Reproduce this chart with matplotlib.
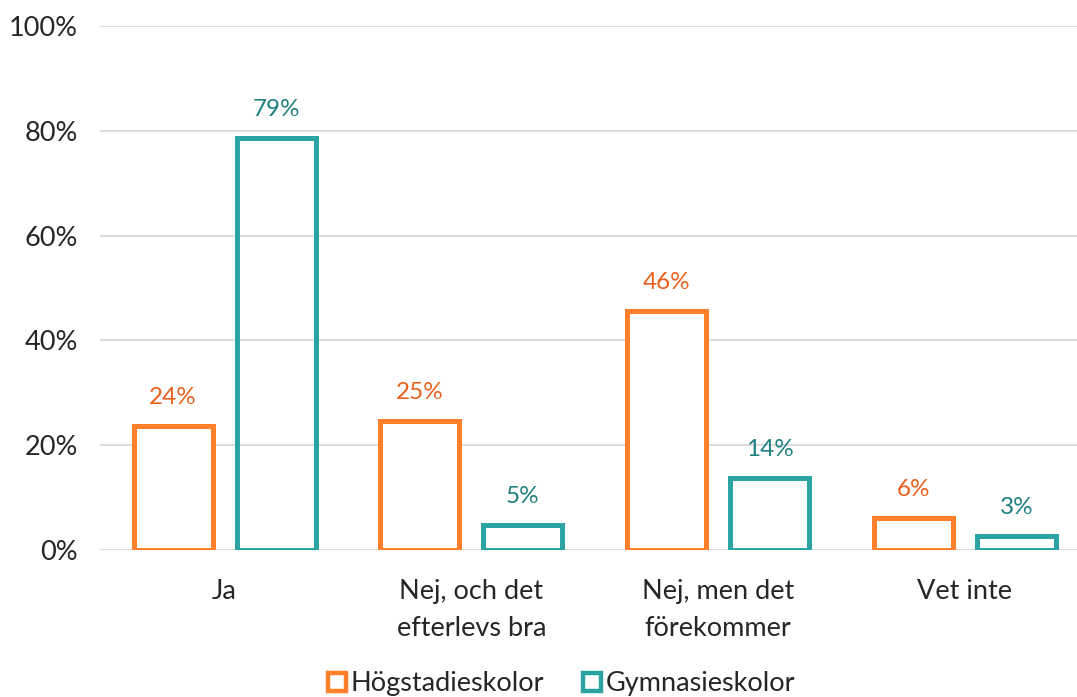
import numpy as np
import matplotlib
matplotlib.use("Agg")
import matplotlib.pyplot as plt
from matplotlib.lines import Line2D

categories = ["Ja", "Nej, och det\nefterlevs bra", "Nej, men det\nförekommer", "Vet inte"]
series_names = ["Högstadieskolor", "Gymnasieskolor"]
hogstadie = [23.7, 24.6, 45.6, 6.1]
gymnasie = [78.6, 4.8, 13.7, 2.7]
yticks = [0, 20, 40, 60, 80, 100]

ORANGE = "#FF7F2A"
ORANGE_TXT = "#E8601C"
TEAL = "#2CA3A3"
TEAL_TXT = "#1F7F80"
TXT = "#262626"

plt.rcParams["font.family"] = ["Lato", "DejaVu Sans"]

fig = plt.figure(figsize=(10.77, 6.97), dpi=100)
ax = fig.add_axes([100 / 1077, 147 / 697, 977 / 1077, 524 / 697])

x = np.arange(len(categories))
off = 0.209
w = 0.32

ax.bar(x - off, hogstadie, width=w, facecolor="white", edgecolor=ORANGE,
       linewidth=3.6, zorder=3)
ax.bar(x + off, gymnasie, width=w, facecolor="none", edgecolor=TEAL,
       linewidth=3.6, zorder=3)

for xi, v in zip(x - off, hogstadie):
    ax.annotate(f"{v:.0f}%", (xi, v), xytext=(0, 13), textcoords="offset points",
                ha="center", va="bottom", fontsize=17.5, color=ORANGE_TXT)
for xi, v in zip(x + off, gymnasie):
    ax.annotate(f"{v:.0f}%", (xi, v), xytext=(0, 13), textcoords="offset points",
                ha="center", va="bottom", fontsize=17.5, color=TEAL_TXT)

ax.set_xlim(-0.505, 3.455)
ax.set_ylim(0, 100)
ax.set_yticks(yticks)
ax.set_yticklabels([f"{t}%" for t in yticks])
ax.set_xticks(x)
ax.set_xticklabels(categories, linespacing=1.6)
ax.tick_params(axis="both", length=0, labelsize=19.5, colors=TXT)
ax.tick_params(axis="x", pad=21)
ax.tick_params(axis="y", pad=16)
ax.grid(axis="y", color="#D9D9D9", linewidth=1.3, zorder=0)
for s in ax.spines.values():
    s.set_visible(False)

handles = [
    Line2D([], [], marker="s", linestyle="none", markersize=13, markeredgewidth=3.2,
           markerfacecolor="white", markeredgecolor=ORANGE),
    Line2D([], [], marker="s", linestyle="none", markersize=13, markeredgewidth=3.2,
           markerfacecolor="white", markeredgecolor=TEAL),
]
leg = fig.legend(handles, series_names, loc="center", bbox_to_anchor=(560 / 1077, 1 - 684 / 697),
                 ncol=2, frameon=False, fontsize=19.5, handletextpad=0.05, columnspacing=1.3,
                 handlelength=0.9)
for t in leg.get_texts():
    t.set_color(TXT)

fig.savefig("out.png", dpi=100)
